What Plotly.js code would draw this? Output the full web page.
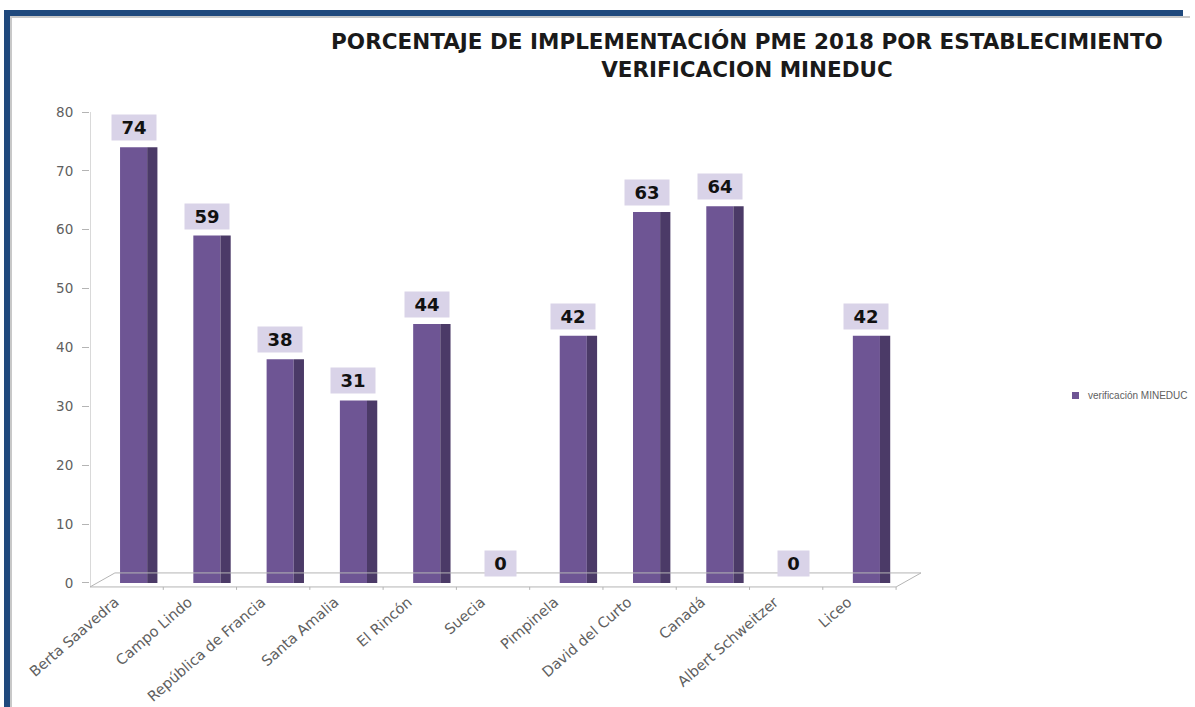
<!DOCTYPE html>
<html>
<head>
<meta charset="utf-8">
<script src="https://cdn.plot.ly/plotly-3.0.1.min.js"></script>
<style>
  html, body { margin: 0; padding: 0; background: #fff; }
  #wrap { position: relative; width: 1195px; height: 707px; overflow: hidden; }
  #chart { position: absolute; left: 0; top: 0; width: 1195px; height: 707px; }
  .fr { position: absolute; pointer-events: none; }
</style>
</head>
<body>
<div id="wrap">
  <div id="chart"></div>
  <div class="fr" style="left:4px; top:10px; width:6px; height:697px; background:#1f497d;"></div>
  <div class="fr" style="left:10px; top:16px; width:2px; height:691px; background:#c8c8c8;"></div>
  <div class="fr" style="left:4px; top:10px; width:1179px; height:6px; background:#1f497d;"></div>
  <div class="fr" style="left:10px; top:16px; width:1180px; height:2px; background:#c8c8c8;"></div>
</div>
<script>
const categories = ["Berta Saavedra", "Campo Lindo", "República de Francia", "Santa Amalia",
  "El Rincón", "Suecia", "Pimpinela", "David del Curto", "Canadá", "Albert Schweitzer", "Liceo"];
const values = [74, 59, 38, 31, 44, 0, 42, 63, 64, 0, 42];
const seriesName = "verificación MINEDUC";
const yTicks = [0, 10, 20, 30, 40, 50, 60, 70, 80];
const titleText = "PORCENTAJE DE IMPLEMENTACIÓN PME 2018 POR ESTABLECIMIENTO<br>VERIFICACION MINEDUC";

const FRONT = "#6e5594", SIDE = "#4b3a67", GREY = "#606060", LINE = "#b4b4b4";
const n = categories.length;

// plot area geometry (pixels)
const L = 90, R = 274, T = 112, B = 117, W = 1195 - L - R, H = 707 - T - B;
const px = v => (v - L) / W;           // pixel x -> paper x
const py = v => (707 - B - v) / H;     // pixel y -> paper y

const front = {
  type: "bar", x: categories, y: values, width: 0.37, offset: -0.26,
  marker: { color: FRONT }, showlegend: false, hoverinfo: "x+y", name: seriesName
};
const side = {
  type: "bar", x: categories, y: values, width: 0.14, offset: 0.11,
  marker: { color: SIDE }, showlegend: false, hoverinfo: "skip"
};

const annotations = values.map((v, i) => ({
  x: i - 0.075, y: v, xref: "x", yref: "y", text: "<b>" + v + "</b>",
  showarrow: false, yanchor: "bottom", yshift: 6,
  bgcolor: "#d9d3e8", width: 16 + 13 * String(v).length, height: 23,
  font: { family: "DejaVu Sans", size: 18, color: "#111" }
}));
// legend text
annotations.push({
  xref: "paper", yref: "paper", x: px(1086), y: py(395), xanchor: "left", yanchor: "middle",
  text: seriesName, showarrow: false,
  font: { family: "Liberation Sans", size: 10, color: GREY }
});

const fy = -0.68, by = 1.7, fx0 = -0.67, bx0 = -0.33;
const shapes = [
  { type: "line", xref: "x", yref: "y", x0: fx0, x1: fx0 + n, y0: fy, y1: fy, line: { color: LINE, width: 1 } },
  { type: "line", xref: "x", yref: "y", x0: bx0, x1: bx0 + n, y0: by, y1: by, line: { color: LINE, width: 1 } },
  { type: "line", xref: "x", yref: "y", x0: fx0, x1: bx0, y0: fy, y1: by, line: { color: LINE, width: 1 } },
  { type: "line", xref: "x", yref: "y", x0: fx0 + n, x1: bx0 + n, y0: fy, y1: by, line: { color: LINE, width: 1 } },
  { type: "line", xref: "x", yref: "y", x0: fx0, x1: fx0, y0: fy, y1: 80, line: { color: LINE, width: 1 } },
  // legend swatch
  { type: "rect", xref: "paper", yref: "paper", x0: px(1072), x1: px(1079), y0: py(399), y1: py(392),
    fillcolor: FRONT, line: { width: 0 } }
];
for (let k = 1; k <= n; k++) {
  shapes.push({ type: "line", xref: "x", yref: "y", x0: fx0 + k, x1: fx0 + k, y0: fy, y1: fy - 0.5,
    line: { color: LINE, width: 1 } });
}

const layout = {
  width: 1195, height: 707,
  margin: { l: L, r: R, t: T, b: B, autoexpand: false },
  paper_bgcolor: "#fff", plot_bgcolor: "#fff",
  barmode: "overlay",
  showlegend: false,
  title: {
    text: titleText, x: 747 / 1195, xanchor: "center", xref: "container",
    yref: "container", y: 1 - 49 / 707, yanchor: "top",
    font: { family: "DejaVu Sans", size: 21.5, color: "#1a1a1a", weight: "bold" }
  },
  xaxis: {
    type: "category", range: [-0.67, 10.67], showgrid: false, zeroline: false,
    showline: false, ticks: "", tickangle: -41,
    ticklabelshift: -24, ticklabelstandoff: 0,
    tickfont: { family: "DejaVu Sans", size: 14.5, color: GREY }
  },
  yaxis: {
    range: [-1.2, 80], tickvals: yTicks, ticktext: yTicks.map(String),
    showgrid: false, zeroline: false, showline: false,
    ticks: "outside", ticklen: 7, tickcolor: LINE, ticklabelstandoff: 6,
    tickfont: { family: "DejaVu Sans", size: 13.5, color: GREY }
  },
  annotations: annotations,
  shapes: shapes
};

Plotly.newPlot("chart", [front, side], layout, { displayModeBar: false, staticPlot: true });
</script>
</body>
</html>
